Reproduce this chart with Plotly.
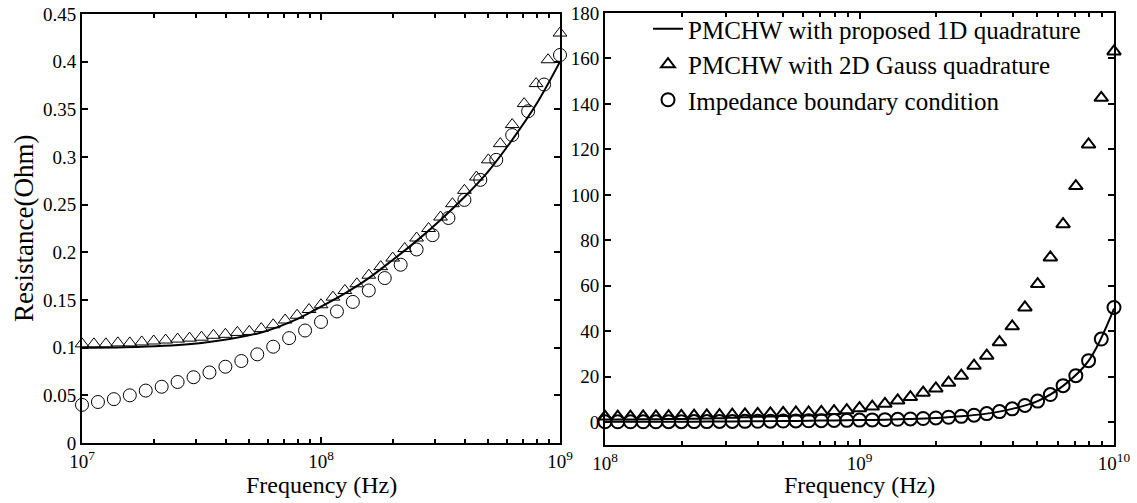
import plotly.graph_objects as go

# ---------------- data ----------------
# Left panel: 1e7 .. 1e9 Hz
left_line_exp = [7.00, 7.25, 7.50, 7.75, 7.90, 8.00, 8.10, 8.20, 8.30, 8.40, 8.50, 8.60, 8.70, 8.80, 8.90, 9.00]
left_line_R = [0.100, 0.101, 0.105, 0.116, 0.130, 0.143, 0.157, 0.173, 0.192, 0.212, 0.234, 0.258, 0.285, 0.318, 0.355, 0.400]

left_tri_exp = [7.00, 7.05, 7.10, 7.15, 7.20, 7.25, 7.30, 7.35, 7.40, 7.45, 7.50, 7.55, 7.60, 7.65, 7.70, 7.75,
                7.80, 7.85, 7.90, 7.95, 8.00, 8.05, 8.10, 8.15, 8.20, 8.25, 8.30, 8.35, 8.40, 8.45, 8.50, 8.55,
                8.60, 8.65, 8.70, 8.75, 8.80, 8.85, 8.90, 8.95, 9.00]
left_tri_R = [0.104, 0.104, 0.104, 0.105, 0.105, 0.106, 0.107, 0.108, 0.109, 0.110, 0.111, 0.113, 0.114, 0.116,
              0.117, 0.120, 0.124, 0.129, 0.134, 0.140, 0.145, 0.153, 0.160, 0.167, 0.176, 0.185, 0.194, 0.204,
              0.215, 0.225, 0.237, 0.251, 0.265, 0.279, 0.297, 0.314, 0.334, 0.356, 0.377, 0.402, 0.430]

left_circ_exp = [7.0000, 7.0667, 7.1333, 7.2000, 7.2667, 7.3333, 7.4000, 7.4667, 7.5333, 7.6000, 7.6667,
                 7.7333, 7.8000, 7.8667, 7.9333, 8.0000, 8.0667, 8.1333, 8.2000, 8.2667, 8.3333, 8.4000,
                 8.4667, 8.5333, 8.6000, 8.6667, 8.7333, 8.8000, 8.8667, 8.9333, 9.0000]
left_circ_R = [0.040, 0.043, 0.046, 0.050, 0.055, 0.059, 0.064, 0.069, 0.074, 0.080, 0.086, 0.093, 0.101,
               0.110, 0.118, 0.127, 0.138, 0.148, 0.160, 0.173, 0.187, 0.203, 0.218, 0.236, 0.255, 0.276,
               0.297, 0.323, 0.348, 0.376, 0.407]

# Right panel: 1e8 .. 1e10 Hz
right_line_exp = [8.0, 8.1, 8.2, 8.3, 8.4, 8.5, 8.6, 8.7, 8.8, 8.9, 9.0, 9.1, 9.2, 9.3, 9.4, 9.5, 9.6, 9.7,
                  9.8, 9.9, 10.0]
right_line_R = [0.2, 0.2, 0.2, 0.25, 0.3, 0.35, 0.45, 0.55, 0.65, 0.8, 0.95, 1.15, 1.45, 1.9, 2.6, 3.8, 5.9,
                9.3, 16.0, 27.0, 50.0]

right_pt_exp = [8.00, 8.05, 8.10, 8.15, 8.20, 8.25, 8.30, 8.35, 8.40, 8.45, 8.50, 8.55, 8.60, 8.65, 8.70, 8.75,
                8.80, 8.85, 8.90, 8.95, 9.00, 9.05, 9.10, 9.15, 9.20, 9.25, 9.30, 9.35, 9.40, 9.45, 9.50, 9.55,
                9.60, 9.65, 9.70, 9.75, 9.80, 9.85, 9.90, 9.95, 10.00]
right_tri_R = [2.5, 2.5, 2.5, 2.6, 2.6, 2.7, 2.8, 2.9, 3.0, 3.1, 3.3, 3.5, 3.7, 3.9, 4.1, 4.3, 4.3, 4.6, 4.9,
               5.3, 6.2, 6.9, 8.1, 9.6, 11.1, 13.0, 14.9, 17.4, 20.5, 24.9, 29.3, 35.2, 42.2, 50.5, 60.8,
               72.5, 87.1, 103.9, 122.2, 142.7, 163.1]
right_circ_R = [0.2, 0.2, 0.2, 0.2, 0.2, 0.25, 0.25, 0.3, 0.3, 0.35, 0.35, 0.4, 0.45, 0.5, 0.55, 0.6, 0.65,
                0.7, 0.8, 0.85, 0.95, 1.05, 1.15, 1.3, 1.45, 1.65, 1.9, 2.2, 2.6, 3.1, 3.8, 4.7, 5.9, 7.4,
                9.3, 12.2, 16.1, 20.5, 27.1, 36.6, 50.5]

names = ["PMCHW with proposed 1D quadrature", "PMCHW with 2D Gauss quadrature", "Impedance boundary condition"]

left_xticks = [1e7, 1e8, 1e9]
left_xtext = ["10<sup>7</sup>", "10<sup>8</sup>", "10<sup>9</sup>"]
right_xticks = [1e8, 1e9, 1e10]
right_xtext = ["10<sup>8</sup>", "10<sup>9</sup>", "10<sup>10</sup>"]
left_yticks = [0, 0.05, 0.1, 0.15, 0.2, 0.25, 0.3, 0.35, 0.4, 0.45]
left_ytext = ["0", "0.05", "0.1", "0.15", "0.2", "0.25", "0.3", "0.35", "0.4", "0.45"]
right_yticks = [0, 20, 40, 60, 80, 100, 120, 140, 160, 180]


def hz(exps):
    return [10 ** e for e in exps]


def minor_vals(d0, d1):
    return [m * 10 ** d for d in range(d0, d1) for m in range(2, 10)]


FONT = "Liberation Serif, Times New Roman, serif"
W, H = 1137, 503

fig = go.Figure()

# left panel
fig.add_trace(go.Scatter(x=hz(left_line_exp), y=left_line_R, mode="lines", line=dict(color="black", width=2, shape="spline"),
                         xaxis="x", yaxis="y", showlegend=False, cliponaxis=False))
fig.add_trace(go.Scatter(x=hz(left_tri_exp), y=left_tri_R, mode="markers",
                         marker=dict(symbol="triangle-up-open", size=12, color="black", line=dict(width=1)),
                         xaxis="x", yaxis="y", showlegend=False, cliponaxis=False))
fig.add_trace(go.Scatter(x=hz(left_circ_exp), y=left_circ_R, mode="markers",
                         marker=dict(symbol="circle-open", size=13, color="black", line=dict(width=1)),
                         xaxis="x", yaxis="y", showlegend=False, cliponaxis=False))

# right panel
fig.add_trace(go.Scatter(x=hz(right_line_exp), y=right_line_R, mode="lines", name=names[0],
                         line=dict(color="black", width=2, shape="spline"),
                         xaxis="x2", yaxis="y2", cliponaxis=False))
fig.add_trace(go.Scatter(x=hz(right_pt_exp), y=right_tri_R, mode="markers", name=names[1],
                         marker=dict(symbol="triangle-up-open", size=12, color="black", line=dict(width=2)),
                         xaxis="x2", yaxis="y2", cliponaxis=False))
fig.add_trace(go.Scatter(x=hz(right_pt_exp), y=right_circ_R, mode="markers", name=names[2],
                         marker=dict(symbol="circle-open", size=13, color="black", line=dict(width=2)),
                         xaxis="x2", yaxis="y2", cliponaxis=False))

common = dict(showline=True, linecolor="black", linewidth=2, mirror="ticks", ticks="inside", ticklen=6,
              tickwidth=1.5, tickcolor="black", showgrid=False, zeroline=False,
              tickfont=dict(family=FONT, size=19, color="black"), automargin=False)

fig.update_layout(
    width=W, height=H,
    margin=dict(l=0, r=0, t=0, b=0),
    paper_bgcolor="white", plot_bgcolor="white",
    font=dict(family=FONT, color="black"),
    xaxis=dict(type="log", range=[7, 9], domain=[82 / W, 560 / W], anchor="y",
               tickmode="array", tickvals=left_xticks, ticktext=left_xtext,
               minor=dict(tickmode="array", tickvals=minor_vals(7, 9), ticks="inside", ticklen=4,
                          tickwidth=1.5, tickcolor="black", showgrid=False),
               **common),
    yaxis=dict(range=[0, 0.45], domain=[1 - 443 / H, 1 - 14 / H], anchor="x",
               tickmode="array", tickvals=left_yticks, ticktext=left_ytext, **common),
    xaxis2=dict(type="log", range=[8, 10], domain=[605 / W, 1114 / W], anchor="y2",
                tickmode="array", tickvals=right_xticks, ticktext=right_xtext,
                minor=dict(tickmode="array", tickvals=minor_vals(8, 10), ticks="inside", ticklen=4,
                           tickwidth=1.5, tickcolor="black", showgrid=False),
                **common),
    yaxis2=dict(range=[-10, 180], domain=[1 - 445 / H, 1 - 13 / H], anchor="x2",
                tickmode="array", tickvals=right_yticks, **common),
    legend=dict(x=648 / W, y=1 - 6 / H, xanchor="left", yanchor="top", bgcolor="rgba(0,0,0,0)",
                borderwidth=0, font=dict(family=FONT, size=25, color="black"), tracegroupgap=0),
    annotations=[
        dict(text="Frequency (Hz)", x=321 / W, y=1 - 485 / H, xref="paper", yref="paper", showarrow=False,
             xanchor="center", yanchor="middle", font=dict(family=FONT, size=24, color="black")),
        dict(text="Frequency (Hz)", x=859 / W, y=1 - 485 / H, xref="paper", yref="paper", showarrow=False,
             xanchor="center", yanchor="middle", font=dict(family=FONT, size=24, color="black")),
        dict(text="Resistance(Ohm)", x=24 / W, y=1 - 229 / H, xref="paper", yref="paper", showarrow=False,
             xanchor="center", yanchor="middle", textangle=-90, font=dict(family=FONT, size=27, color="black")),
    ],
)

fig.write_html("out.html", config={"displayModeBar": False},
               post_script="document.body.style.margin='0';document.body.style.overflow='hidden';")
